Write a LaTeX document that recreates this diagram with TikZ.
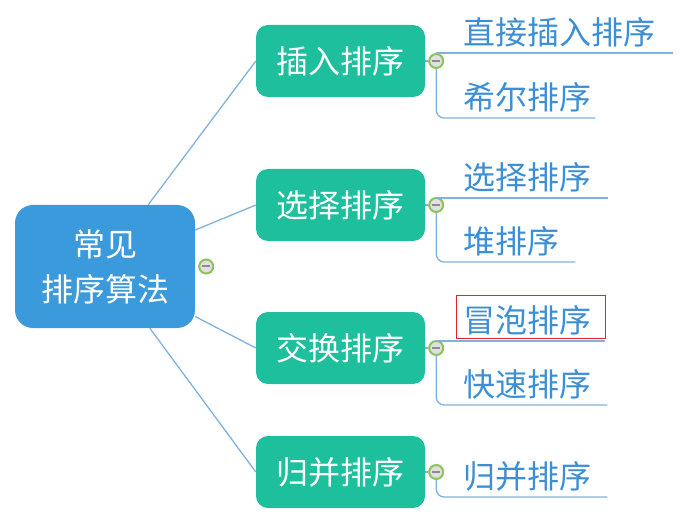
\documentclass[tikz,border=0pt]{standalone}
\usepackage{fontspec}
\setmainfont{Noto Sans CJK SC}
\usetikzlibrary{positioning}
\definecolor{rootblue}{HTML}{3A9ADB}
\definecolor{branchgreen}{HTML}{1DBF9D}
\definecolor{leafblue}{HTML}{3C8FD4}
\definecolor{linkblue}{HTML}{80B2DF}
\definecolor{knobgreen}{HTML}{8CC45B}
\definecolor{markred}{HTML}{E0242B}

\begin{document}
\begin{tikzpicture}[x=1pt, y=1pt,
  font=\fontsize{32}{38}\selectfont,
  root/.style={rectangle, rounded corners=18pt, fill=rootblue, text=white,
    minimum width=180pt, minimum height=123pt, align=center,
    font=\fontsize{32}{45}\selectfont},
  branch/.style={rectangle, rounded corners=12pt, fill=branchgreen, text=white,
    minimum width=169pt, minimum height=72pt},
  leaf/.style={anchor=south west, inner sep=0pt, text height=25pt, text depth=8pt,
    text width=#1, align=left, text=leafblue},
  knob/.style={circle, draw=knobgreen, line width=2pt, fill=black!12,
    minimum size=14pt, inner sep=0pt,
    path picture={\draw[black!45, line width=2pt]
      ([xshift=-4pt]path picture bounding box.center) --
      ([xshift=4pt]path picture bounding box.center);}},
  link/.style={draw=linkblue, line width=1.3pt}
]
\useasboundingbox (0,0) rectangle (700,525);

% Root
\node[root] (root) at (105,258.5) {常见\\排序算法};
\node[knob, right=3pt of root] (k0) {};

% Branches
\node[branch] (b1) at (340.5,464) {插入排序};
\node[branch] (b2) at (340.5,320) {选择排序};
\node[branch] (b3) at (340.5,177) {交换排序};
\node[branch] (b4) at (340.5,53) {归并排序};
\draw[link] (root.55) -- (b1.west);
\draw[link] (root.22) -- (b2.west);
\draw[link] (root.-29) -- (b3.west);
\draw[link] (root.-54) -- (b4.west);

% Knobs
\foreach \b in {1,2,3,4} {
  \node[knob, right=3pt of b\b] (k\b) {};
  \draw[link] (b\b.east) -- (k\b.west);
}

% Leaves
\node[leaf=210pt] (l1) at (463,472) {直接插入排序};
\node[leaf=132pt] (l2) at (463,407) {希尔排序};
\node[leaf=145pt] (l3) at (463,327) {选择排序};
\node[leaf=112pt] (l4) at (463,263) {堆排序};
\node[leaf=142pt] (l5) at (463,184) {冒泡排序};
\node[leaf=144pt] (l6) at (463,120) {快速排序};
\node[leaf=144pt] (l7) at (463,28) {归并排序};

% Underlines
\draw[link] (k1.north) |- (l1.south east);
\draw[link, rounded corners=8pt] (k1.south) |- (l2.south east);
\draw[link] (k2.north) |- (l3.south east);
\draw[link, rounded corners=8pt] (k2.south) |- (l4.south east);
\draw[link] (k3.north) |- (l5.south east);
\draw[link, rounded corners=8pt] (k3.south) |- (l6.south east);
\draw[link, rounded corners=8pt] (k4.south) |- (l7.south east);

% Mark
\draw[markred, line width=1pt] ([shift={(-7pt,3pt)}]l5.south west) rectangle ([shift={(0pt,12pt)}]l5.north east);
\end{tikzpicture}
\end{document}
